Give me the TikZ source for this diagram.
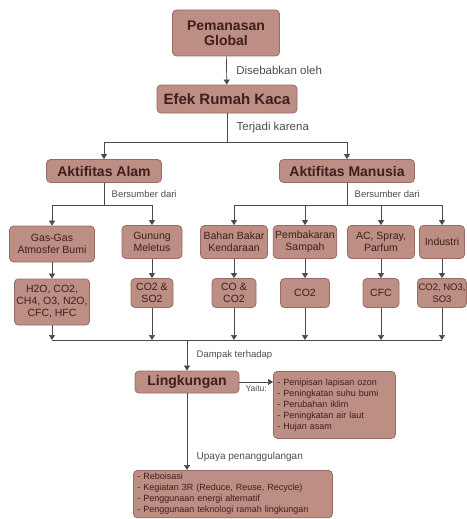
\documentclass[tikz,border=0pt]{standalone}
\usepackage{fontspec}
\setmainfont{Liberation Sans}
\usetikzlibrary{arrows.meta}
\definecolor{boxfill}{HTML}{BC8E84}
\definecolor{boxline}{HTML}{9A6B61}
\definecolor{boxtext}{HTML}{3E1F1A}
\definecolor{wirecol}{HTML}{4A4A4A}

\begin{document}
\begin{tikzpicture}[x=1pt, y=-1pt,
  box/.style={draw=boxline, fill=boxfill, rounded corners=4pt, line width=0.8pt,
              inner sep=2pt, align=center, text=boxtext},
  head/.style={box, font=\fontsize{14}{15}\selectfont\bfseries},
  srcbox/.style={box, font=\fontsize{10.5}{12}\selectfont},
  listbox/.style={box, align=left, anchor=north west, inner xsep=4pt, inner ysep=3pt,
                  font=\fontsize{9}{11}\selectfont},
  wire/.style={draw=wirecol, line width=0.7pt},
  arr/.style={wire, -{Triangle[width=6pt, length=5pt]}},
  lbl/.style={font=\fontsize{9.5}{11}\selectfont, text=black!70},
]
\useasboundingbox (0,0) rectangle (466,519);

% top of the tree
\node[head, minimum width=107, minimum height=46] (pg) at (226,33) {Pemanasan\\Global};
\node[head, font=\fontsize{15}{16}\selectfont\bfseries, minimum width=140, minimum height=28] (erk) at (227,99) {Efek Rumah Kaca};
\node[head, minimum width=115, minimum height=23] (aa) at (104,171) {Aktifitas Alam};
\node[head, minimum width=135, minimum height=23] (am) at (347,171) {Aktifitas Manusia};

% sources
\node[srcbox, minimum width=85, minimum height=36] (gas) at (52,244) {Gas-Gas\\Atmosfer Bumi};
\node[srcbox, minimum width=60, minimum height=33] (gun) at (152,242) {Gunung\\Meletus};
\node[srcbox, minimum width=67, minimum height=33] (bbk) at (234,242) {Bahan Bakar\\Kendaraan};
\node[srcbox, minimum width=62, minimum height=33] (pbs) at (305,242) {Pembakaran\\Sampah};
\node[srcbox, minimum width=67, minimum height=33] (acs) at (381,242) {AC, Spray,\\Parfum};
\node[srcbox, minimum width=45, minimum height=33] (ind) at (442,242) {Industri};

% gases
\node[srcbox, minimum width=68, minimum height=46] (h2o) at (52,302) {H2O, CO2,\\CH4, O3, N2O,\\CFC, HFC};
\node[srcbox, minimum width=42, minimum height=29] (cs) at (152,293) {CO2 \&\\SO2};
\node[srcbox, minimum width=44, minimum height=29] (cc) at (234,293) {CO \&\\CO2};
\node[srcbox, minimum width=49, minimum height=29] (co2) at (305,293) {CO2};
\node[srcbox, minimum width=36, minimum height=29] (cfc) at (381,293) {CFC};
\node[srcbox, font=\fontsize{9.5}{12}\selectfont, inner xsep=1pt, minimum width=46, minimum height=29] (cns) at (442,293) {CO2, NO3,\\SO3};

% effects
\node[head, minimum width=104, minimum height=22] (ling) at (187,382) {Lingkungan};
\node[listbox, text width=114, minimum height=67] (dmp) at (273,371) {%
  - Penipisan lapisan ozon\\
  - Peningkatan suhu bumi\\
  - Perubahan iklim\\
  - Peningkatan air laut\\
  - Hujan asam};
\node[listbox, text width=191] (upy) at (133,470) {%
  - Reboisasi\\
  - Kegiatan 3R (Reduce, Reuse, Recycle)\\
  - Penggunaan energi alternatif\\
  - Penggunaan teknologi ramah lingkungan};

\coordinate (split1) at (227,142);
\coordinate (splitA) at (104,205);
\coordinate (splitM) at (347,205);
\coordinate (busL) at (52,340);
\coordinate (busR) at (442,340);
\coordinate (bus) at (187,340);

\draw[arr] (pg) -- (erk) node[lbl, midway, right, xshift=6pt, font=\fontsize{11.5}{12}\selectfont] {Disebabkan oleh};
\draw[wire] (erk) -- (split1) node[lbl, midway, right, xshift=6pt, font=\fontsize{11.5}{12}\selectfont] {Terjadi karena};
\draw[arr] (split1) -| (aa);
\draw[arr] (split1) -| (am);

\draw[wire] (aa) -- (splitA) node[lbl, midway, right, xshift=4pt] {Bersumber dari};
\draw[arr] (splitA) -| (gas);
\draw[arr] (splitA) -| (gun);
\draw[wire] (am) -- (splitM) node[lbl, midway, right, xshift=4pt] {Bersumber dari};
\draw[arr] (splitM) -| (bbk);
\draw[arr] (splitM) -| (pbs);
\draw[arr] (splitM) -| (acs);
\draw[arr] (splitM) -| (ind);

\draw[arr] (gas) -- (h2o);
\draw[arr] (gun) -- (cs);
\draw[arr] (bbk) -- (cc);
\draw[arr] (pbs) -- (co2);
\draw[arr] (acs) -- (cfc);
\draw[arr] (ind) -- (cns);

\draw[arr] (h2o) -- (h2o |- busL);
\draw[arr] (cs) -- (cs |- busL);
\draw[arr] (cc) -- (cc |- busL);
\draw[arr] (co2) -- (co2 |- busL);
\draw[arr] (cfc) -- (cfc |- busL);
\draw[arr] (cns) -- (cns |- busL);
\draw[wire] (busL) -- (busR);

\draw[arr] (bus) -- (ling) node[lbl, midway, right, xshift=6pt] {Dampak terhadap};
\draw[arr] (ling.east) -- (ling.east -| dmp.west) node[lbl, midway, below, font=\fontsize{8.5}{10}\selectfont] {Yaitu:};
\draw[arr] (ling) -- (ling |- upy.north) node[lbl, pos=0.83, right, xshift=6pt, font=\fontsize{10}{11}\selectfont] {Upaya penanggulangan};

\end{tikzpicture}
\end{document}
